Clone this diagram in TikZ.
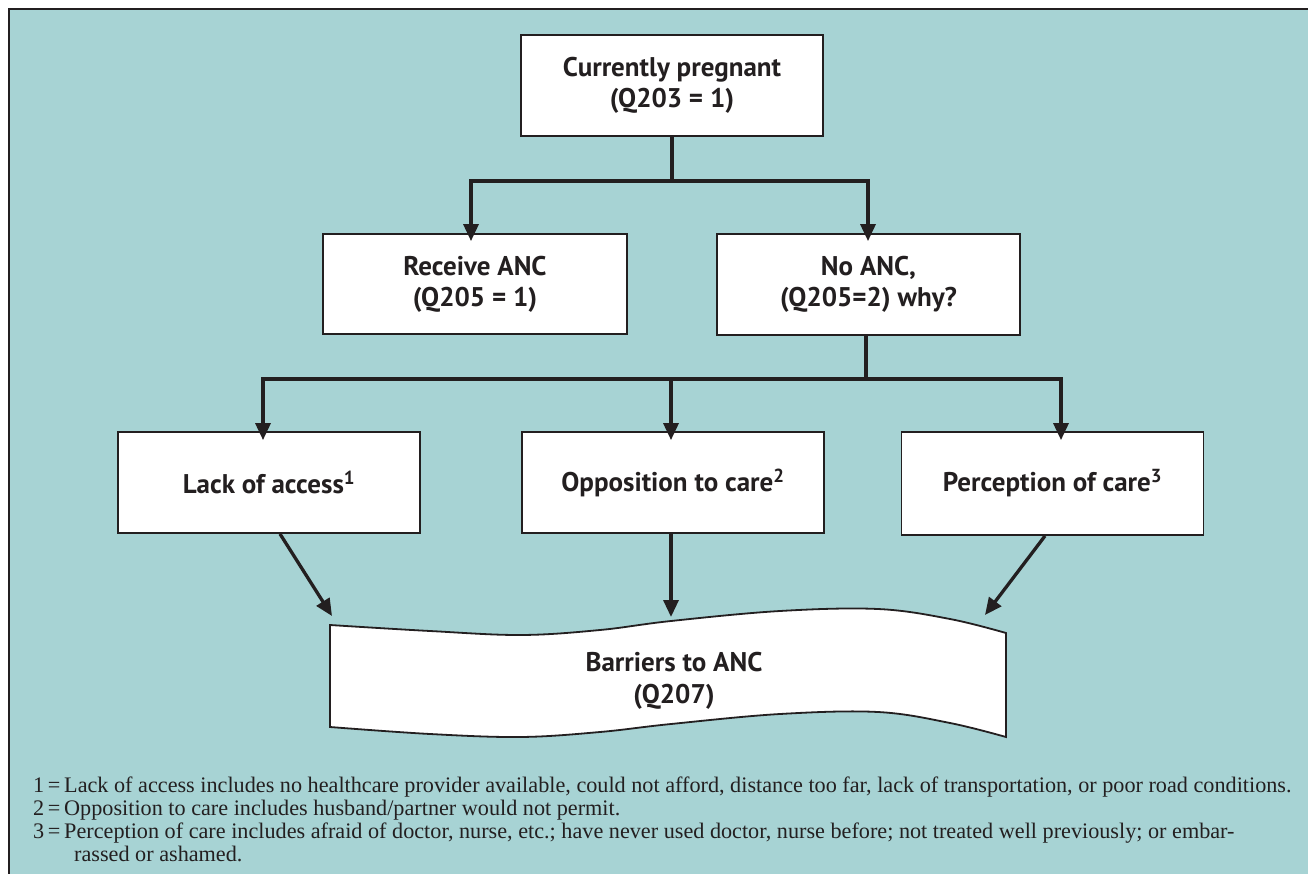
\documentclass[tikz,border=0pt]{standalone}
\usepackage{fontspec}
\setmainfont{Liberation Serif}
\setsansfont{PT Sans}
\usetikzlibrary{arrows.meta}
\definecolor{panel}{HTML}{A7D3D4}
\definecolor{ink}{HTML}{231F20}
\tikzset{
  box/.style={draw=ink, line width=1.8pt, fill=white, minimum width=302pt, minimum height=101pt,
    align=center, inner sep=0pt, font=\sffamily\bfseries\fontsize{27}{31}\selectfont, text=ink},
  link/.style={draw=ink, line width=3.3pt},
  arr/.style={link, -{Triangle[length=17pt,width=15pt]}},
  note/.style={anchor=base west, inner sep=0pt, font=\fontsize{22.2}{23}\selectfont, text=ink}
}
\begin{document}
\begin{tikzpicture}[x=1pt,y=-1pt]
\useasboundingbox (0,0) rectangle (1308,874);
\fill[white] (0,0) rectangle (1308,874);
\fill[panel] (9,9) rectangle (1308,874);
\draw[ink, line width=2pt] (9,874) -- (9,9) -- (1308,9);

\node[box] (top) at (672,85.5) {Currently pregnant\\(Q203 = 1)};
\node[box, minimum width=304pt, minimum height=100pt] (recv) at (475,284) {Receive ANC\\(Q205 = 1)};
\node[box, minimum width=303pt] (noanc) at (868.5,284.5) {No ANC,\\(Q205=2) why?};
\node[box] (lack) at (269,482.5) {Lack of access\textsuperscript{1}};
\node[box] (opp) at (673,482.5) {Opposition to care\textsuperscript{2}};
\node[box, minimum height=103pt] (perc) at (1052.5,483.5) {Perception of care\textsuperscript{3}};

% document shape
\path[draw=ink, line width=1.8pt, fill=white]
  plot[smooth, tension=0.6] coordinates {(330,625) (430,631) (521,635) (600,630) (671,621) (780,611) (878,609) (950,619) (1006,633)}
  -- plot[smooth, tension=0.6] coordinates {(1006,737) (950,723) (878,712) (780,714) (671,724) (600,732) (521,737) (430,734) (330,727)}
  -- cycle;
\node[align=center, inner sep=0pt, font=\sffamily\bfseries\fontsize{27}{32}\selectfont, text=ink] (bar) at (674,681) {Barriers to ANC\\(Q207)};

% connectors
\coordinate (j1) at (672,181);
\draw[link] (top.south) -- (j1);
\draw[arr] (j1) -| ([xshift=-4pt,yshift=-8pt]recv.north);
\draw[arr] (j1) -| ([xshift=-0.5pt,yshift=-8pt]noanc.north);

\coordinate (j2) at (866,379);
\draw[link] ([xshift=-2.5pt]noanc.south) -- (j2);
\draw[arr] (j2) -| ([xshift=-6pt,yshift=-9pt]lack.north);
\draw[arr] (j2) -| ([xshift=-2pt,yshift=-9pt]opp.north);
\draw[arr] (j2) -| ([xshift=8.5pt,yshift=-9pt]perc.north);

\coordinate (t1) at (332,616);
\coordinate (t2) at (671,617);
\coordinate (t3) at (985,615);
\draw[arr] ([xshift=11pt]lack.south) -- (t1);
\draw[arr] ([xshift=-2pt]opp.south) -- (t2);
\draw[arr] ([xshift=-7.5pt]perc.south) -- (t3);

% footnotes
\node[note] (n1) at (33,792) {1\,=\,Lack of access includes no healthcare provider available, could not afford, distance too far, lack of transportation, or poor road conditions.};
\node[note] (n2) at (33,815) {2\,=\,Opposition to care includes husband/partner would not permit.};
\node[note] (n3) at (33,838) {3\,=\,Perception of care includes afraid of doctor, nurse, etc.; have never used doctor, nurse before; not treated well previously; or embar-};
\node[note] (n4) at (74,861) {rassed or ashamed.};
\end{tikzpicture}
\end{document}
